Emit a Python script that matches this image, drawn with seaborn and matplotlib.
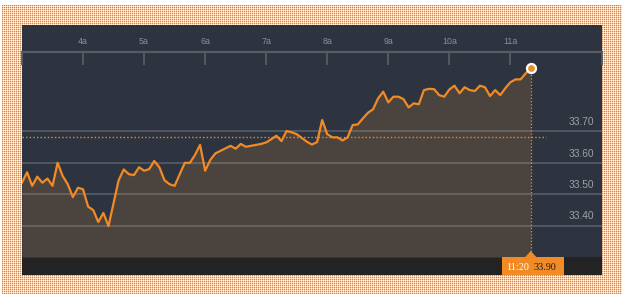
import numpy as np
import pandas as pd
import matplotlib
matplotlib.use("Agg")
import matplotlib.pyplot as plt
from matplotlib.patches import Rectangle, Polygon
import seaborn as sns

# ---- data -------------------------------------------------------------
times = pd.date_range("2024-01-02 03:00", "2024-01-02 11:20", freq="5min")
prices = [
    33.536, 33.569, 33.526, 33.555, 33.536, 33.549, 33.526, 33.599, 33.557, 33.531,
    33.490, 33.520, 33.515, 33.460, 33.449, 33.411, 33.440, 33.398, 33.471, 33.544,
    33.578, 33.563, 33.560, 33.585, 33.574, 33.579, 33.605, 33.585, 33.544, 33.531,
    33.526, 33.563, 33.599, 33.599, 33.624, 33.656, 33.574, 33.608, 33.629, 33.637,
    33.645, 33.653, 33.644, 33.659, 33.650, 33.653, 33.656, 33.659, 33.664, 33.674,
    33.685, 33.668, 33.700, 33.696, 33.690, 33.678, 33.666, 33.657, 33.665, 33.735,
    33.690, 33.680, 33.680, 33.670, 33.680, 33.719, 33.721, 33.740, 33.758, 33.769,
    33.804, 33.825, 33.791, 33.809, 33.809, 33.801, 33.775, 33.788, 33.785, 33.830,
    33.834, 33.833, 33.814, 33.809, 33.832, 33.844, 33.820, 33.839, 33.830, 33.827,
    33.844, 33.839, 33.811, 33.830, 33.814, 33.836, 33.855, 33.864, 33.864, 33.883,
    33.900,
]
prev_close = 33.68
y_ticks = [33.40, 33.50, 33.60, 33.70]
y_tick_labels = ["33.40", "33.50", "33.60", "33.70"]
x_ticks = [4, 5, 6, 7, 8, 9, 10, 11]
x_tick_labels = ["4a", "5a", "6a", "7a", "8a", "9a", "10a", "11a"]
last_time_label = "11:20"
last_price_label = "33.90"

hours = (times - times[0]).total_seconds() / 3600 + 3
df = pd.DataFrame({"hour": hours, "price": prices})

# ---- style ------------------------------------------------------------
sns.set_style("white")
plt.rcParams["font.family"] = ["Liberation Sans", "DejaVu Sans"]

ORANGE = "#f28a26"
BG = "#2d3440"
FILL = "#4a433e"
BAND = "#232323"

W, H = 627, 300
fig = plt.figure(figsize=(W / 100, H / 100), dpi=100)
fig.patch.set_facecolor("white")

# dotted orange border pattern (white with orange dots), pixel for pixel
pat = np.full((H, W, 3), 255, dtype=np.uint8)
pat[5:294:2, 3:622:2, :] = (250, 206, 168)      # horizontal neighbours
pat[6:294:2, 2:622:2, :] = (250, 206, 168)      # vertical neighbours
pat[5:294:2, 2:622:2, :] = (236, 128, 36)       # dot centres
bg_ax = fig.add_axes([0, 0, 1, 1])
bg_ax.set_zorder(-5)
bg_ax.imshow(pat, extent=(0, W, H, 0), interpolation="none", aspect="auto")
bg_ax.set_xlim(0, W)
bg_ax.set_ylim(H, 0)
bg_ax.axis("off")

def fx(px):
    return px / W

def fy(py):
    return (H - py) / H

# dark panel and bottom band
fig.patches.append(Rectangle((fx(22), fy(275)), fx(580), 250 / H,
                             transform=fig.transFigure, facecolor=BG,
                             edgecolor="none", zorder=1))
fig.patches.append(Rectangle((fx(22), fy(275)), fx(580), 18 / H,
                             transform=fig.transFigure, facecolor=BAND,
                             edgecolor="none", zorder=1))

ax = fig.add_axes([fx(22), fy(257), fx(580), 205 / H])
ax.set_zorder(2)
ax.patch.set_alpha(0)

ax.set_xlim(3, 12.5)
ax.set_ylim(33.30, 33.951)

# area fill
ax.fill_between(df["hour"], df["price"], 33.30, color=FILL, lw=0, zorder=1)

# gridlines
for v in y_ticks:
    ax.axhline(v, color="white", alpha=0.2, lw=1.2, zorder=2)

# previous close dotted line
ax.plot([3, 11.585], [prev_close, prev_close], color=ORANGE, lw=1.0,
        ls=(0, (1, 1.6)), zorder=3)

# vertical dotted line at last point
last_x = df["hour"].iloc[-1]
last_y = df["price"].iloc[-1]
ax.plot([last_x, last_x], [last_y, 33.30], color=ORANGE, lw=0.9,
        ls=(0, (1, 1.6)), zorder=3, clip_on=False)

sns.lineplot(data=df, x="hour", y="price", color=ORANGE, lw=1.6, ax=ax, zorder=4)
ax.plot([last_x], [last_y], "o", ms=6.5, mfc=ORANGE, mec="white", mew=1.6,
        zorder=5, clip_on=False)

# right-side value labels
for v, lab in zip(y_ticks, y_tick_labels):
    ax.annotate(lab, xy=((594 - 22) / 580, v),
                xycoords=ax.get_yaxis_transform(),
                xytext=(0, 6.5), textcoords="offset points",
                ha="right", va="center", color="#9ca0a7", fontsize=7.3, zorder=6)

# top time axis
ax.xaxis.tick_top()
ax.set_xticks([3] + x_ticks + [12.5])
ax.set_xticklabels([""] + x_tick_labels + [""])
ax.tick_params(axis="x", direction="in", length=9, width=1.3, color="#565c65",
               labelcolor="#8a9099", labelsize=6.4, pad=4)
ax.set_yticks([])
for s in ["left", "right", "bottom"]:
    ax.spines[s].set_visible(False)
ax.spines["top"].set_color("#565c65")
ax.spines["top"].set_linewidth(1.6)
ax.set_xlabel("")
ax.set_ylabel("")

# last-value label box with pointer
px = ax.transData.transform((last_x, last_y))[0]
fig.patches.append(Rectangle((fx(px - 29), fy(275)), fx(62), 18 / H,
                             transform=fig.transFigure, facecolor=ORANGE,
                             edgecolor="none", zorder=3))
fig.patches.append(Polygon([(fx(px - 6), fy(257.5)), (fx(px + 6), fy(257.5)),
                            (fx(px), fy(251))], closed=True,
                           transform=fig.transFigure, facecolor=ORANGE,
                           edgecolor="none", zorder=3))
fig.text(fx(px - 13), fy(267), last_time_label, color="white", fontsize=7.3,
         family=["Liberation Serif", "DejaVu Serif"], ha="center", va="center",
         zorder=4)
fig.text(fx(px + 14), fy(267), last_price_label, color="#1c1c1c", fontsize=7.3,
         family=["Liberation Serif", "DejaVu Serif"], ha="center", va="center",
         zorder=4)

fig.savefig("out.png", dpi=100, facecolor="white")
